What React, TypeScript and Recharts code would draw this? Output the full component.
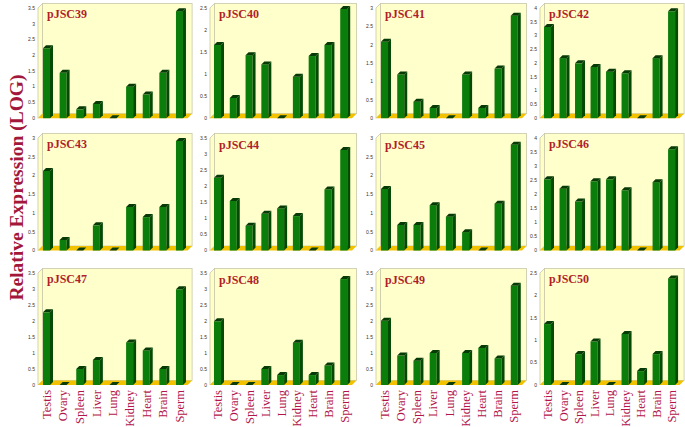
import React from "react";
import { BarChart, Bar, XAxis, YAxis, ReferenceArea } from "recharts";

// tissues on the x axis
const tissues = ["Testis", "Ovary", "Spleen", "Liver", "Lung", "Kidney", "Heart", "Brain", "Sperm"];

// one list per clone (log relative expression)
const pJSC39 = [2.22, 1.44, 0.28, 0.45, 0, 1.0, 0.75, 1.44, 3.4];
const pJSC40 = [1.66, 0.46, 1.43, 1.22, 0, 0.94, 1.41, 1.66, 2.48];
const pJSC41 = [2.08, 1.19, 0.45, 0.28, 0, 1.19, 0.28, 1.35, 2.79];
const pJSC42 = [3.31, 2.18, 1.99, 1.86, 1.69, 1.63, 0, 2.18, 3.88];
const pJSC43 = [2.12, 0.28, 0, 0.67, 0, 1.16, 0.89, 1.16, 2.92];
const pJSC44 = [2.26, 1.54, 0.77, 1.14, 1.31, 1.07, 0, 1.9, 3.13];
const pJSC45 = [1.64, 0.68, 0.68, 1.21, 0.9, 0.49, 0, 1.25, 2.82];
const pJSC46 = [2.53, 2.2, 1.74, 2.46, 2.53, 2.14, 0, 2.43, 3.6];
const pJSC47 = [2.27, 0, 0.5, 0.78, 0, 1.33, 1.08, 0.5, 2.99];
const pJSC48 = [1.99, 0, 0, 0.5, 0.31, 1.32, 0.31, 0.61, 3.31];
const pJSC49 = [2.01, 0.92, 0.76, 1.0, 0, 1.0, 1.16, 0.83, 3.1];
const pJSC50 = [1.36, 0, 0.69, 0.97, 0, 1.14, 0.31, 0.69, 2.38];

// panel titles and axis maxima, in grid order
const titles = ["pJSC39", "pJSC40", "pJSC41", "pJSC42", "pJSC43", "pJSC44", "pJSC45", "pJSC46", "pJSC47", "pJSC48", "pJSC49", "pJSC50"];
const series = [pJSC39, pJSC40, pJSC41, pJSC42, pJSC43, pJSC44, pJSC45, pJSC46, pJSC47, pJSC48, pJSC49, pJSC50];
const yMax = [3.5, 2.5, 3, 4, 3, 3.5, 3, 4, 3.5, 3.5, 3.5, 2.5];

// layout of the grid (front plane of each plot)
const COL_LEFT = [38.4, 210, 376, 540.2];
const COL_RIGHT = [188, 352, 522, 679.8];
const ROW_TOP = [7.5, 138, 273];
const ROW_ZERO = [117.7, 250.5, 385];
const Y_AXIS_W = 14;
const DEPTH = 4.5;
const BAR_DEPTH = 3;

const LABEL_RED = "#b3154a";
const TITLE_RED = "#b01e2a";

function Box(props: any) {
	const { x, y, width, height, title } = props;
	const d = DEPTH;
	const b = y + height;
	return (
		<g>
			<rect x={x + d} y={y - d} width={width} height={height} fill="#ffffcc" stroke="#c8c8a8" strokeWidth={0.8} />
			<polygon
				points={`${x},${y} ${x + d},${y - d} ${x + d},${b - d} ${x},${b}`}
				fill="#ffffc6"
				stroke="#c8c8a8"
				strokeWidth={0.8}
			/>
			<polygon
				points={`${x},${b} ${x + d},${b - d} ${x + width + d},${b - d} ${x + width},${b}`}
				fill="#f2c200"
			/>
			<text
				x={x + 9}
				y={y + 10.5}
				fontFamily="Liberation Serif, serif"
				fontWeight="bold"
				fontSize={12}
				fill={TITLE_RED}
			>
				{title}
			</text>
		</g>
	);
}

function Bar3D(props: any) {
	const { x, y, width, height } = props;
	const d = BAR_DEPTH;
	if (x == null || y == null) return null;
	const b = y + height;
	if (height < 0.6) {
		return (
			<polygon
				points={`${x},${b} ${x + d},${b - d} ${x + width + d},${b - d} ${x + width},${b}`}
				fill="#0b3d0b"
			/>
		);
	}
	return (
		<g>
			<rect x={x} y={y} width={width} height={height} fill="#0b7d0b" />
			<polygon points={`${x + width},${y} ${x + width + d},${y - d} ${x + width + d},${b - d} ${x + width},${b}`} fill="#044a04" />
			<polygon points={`${x},${y} ${x + d},${y - d} ${x + width + d},${y - d} ${x + width},${y}`} fill="#063a06" />
		</g>
	);
}

function TissueTick(props: any) {
	const { x, y, payload } = props;
	return (
		<text
			x={0}
			y={0}
			transform={`translate(${x + 4.5},${y + 5}) rotate(-90)`}
			textAnchor="end"
			fontFamily="Liberation Serif, serif"
			fontSize={12.5}
			fill={LABEL_RED}
		>
			{payload.value}
		</text>
	);
}

function Panel({ idx }: { idx: number }) {
	const col = idx % 4;
	const row = Math.floor(idx / 4);
	const max = yMax[idx];
	const data = tissues.map((name, i) => ({ name, value: series[idx][i] }));
	const ticks: number[] = [];
	for (let t = 0; t <= max + 1e-9; t += 0.5) ticks.push(t);

	const plotW = COL_RIGHT[col] - COL_LEFT[col];
	const plotH = ROW_ZERO[row] - ROW_TOP[row];
	const bottomRow = row === 2;
	const axisH = bottomRow ? 41 : 0;
	const margin = { top: 7, right: 8, bottom: bottomRow ? 0 : 4, left: 0 };
	const width = Y_AXIS_W + plotW + margin.right;
	const height = margin.top + plotH + axisH + margin.bottom;

	return (
		<div style={{ position: "absolute", left: COL_LEFT[col] - Y_AXIS_W, top: ROW_TOP[row] - margin.top }}>
			<BarChart width={width} height={height} data={data} margin={margin} barSize={7}>
				{bottomRow ? (
					<XAxis
						dataKey="name"
						height={axisH}
						axisLine={false}
						tickLine={false}
						tickSize={0}
						tickMargin={0}
						interval={0}
						tick={<TissueTick />}
					/>
				) : (
					<XAxis dataKey="name" hide />
				)}
				<YAxis
					width={Y_AXIS_W}
					domain={[0, max]}
					ticks={ticks}
					interval={0}
					axisLine={false}
					tickLine={false}
					tickSize={0}
					tickMargin={3}
					tick={{ fontSize: 5, fill: "#333", fontFamily: "Liberation Sans, sans-serif" }}
				/>
				<ReferenceArea y1={0} y2={max} ifOverflow="visible" shape={(p: any) => <Box {...p} title={titles[idx]} />} />
				<Bar dataKey="value" shape={(p: any) => <Bar3D {...p} />} isAnimationActive={false} />
			</BarChart>
		</div>
	);
}

export default function App() {
	return (
		<div style={{ position: "absolute", left: 0, top: 0, width: 685, height: 427, background: "#fff", overflow: "hidden" }}>
			<svg width={30} height={427} style={{ position: "absolute", left: 0, top: 0 }}>
				<text
					x={0}
					y={0}
					transform="translate(22.5,187.5) rotate(-90)"
					textAnchor="middle"
					fontFamily="Liberation Serif, serif"
					fontWeight="bold"
					fontSize={19.5}
					fill="#a3173a"
				>
					Relative Expression (LOG)
				</text>
			</svg>
			{titles.map((t, i) => (
				<Panel key={t} idx={i} />
			))}
		</div>
	);
}
